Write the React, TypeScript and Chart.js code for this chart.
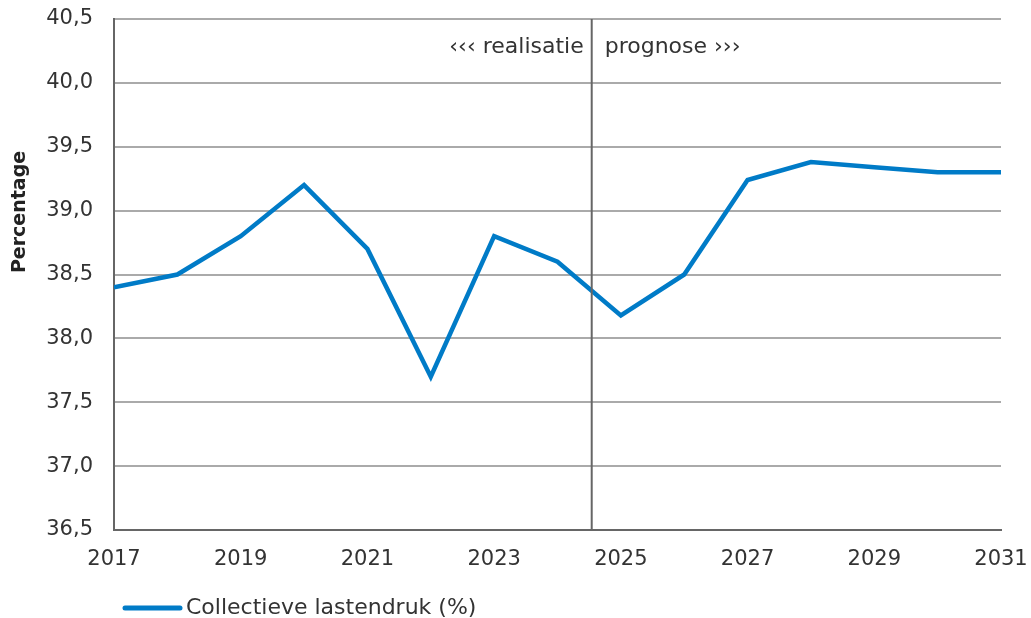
import React, { useEffect, useRef } from "react";
import { Chart, registerables } from "chart.js";

Chart.register(...registerables);

// ---- data ----
const years: number[] = [2017, 2018, 2019, 2020, 2021, 2022, 2023, 2024, 2025, 2026, 2027, 2028, 2029, 2030, 2031];
const lastendruk: number[] = [38.4, 38.5, 38.8, 39.2, 38.7, 37.7, 38.8, 38.6, 38.18, 38.5, 39.24, 39.38, 39.34, 39.3, 39.3];
const yMin = 36.5;
const yMax = 40.5;
const yStep = 0.5;
const xMin = 2017;
const xMax = 2031;
const xStep = 2;
const boundaryYear = 2024.54;
const seriesLabel = "Collectieve lastendruk (%)";
const yAxisTitle = "Percentage";
const leftNote = "\u2039\u2039\u2039 realisatie";
const rightNote = "prognose \u203A\u203A\u203A";

const FONT = "'DejaVu Sans', Verdana, sans-serif";
const BLUE = "#007BC7";
const TEXT = "#333333";

const overlayPlugin = {
  id: "overlay",
  afterDatasetsDraw(chart: any) {
    const { ctx, chartArea, scales } = chart;
    const xs = scales.x;
    ctx.save();
    // separator line
    const bx = xs.getPixelForValue(boundaryYear);
    ctx.strokeStyle = "#666666";
    ctx.lineWidth = 2;
    ctx.beginPath();
    ctx.moveTo(bx, chartArea.top);
    ctx.lineTo(bx, chartArea.bottom);
    ctx.stroke();
    // notes
    ctx.fillStyle = TEXT;
    ctx.font = `22px ${FONT}`;
    ctx.textBaseline = "middle";
    ctx.textAlign = "right";
    ctx.fillText(leftNote, bx - 8, chartArea.top + 28);
    ctx.textAlign = "left";
    ctx.fillText(rightNote, bx + 13, chartArea.top + 28);
    ctx.restore();
  },
  afterDraw(chart: any) {
    const { ctx, chartArea } = chart;
    ctx.save();
    // y axis title
    ctx.fillStyle = "#222222";
    ctx.font = `bold 19px ${FONT}`;
    ctx.translate(20, chartArea.top + 193);
    ctx.rotate(-Math.PI / 2);
    ctx.textAlign = "center";
    ctx.textBaseline = "middle";
    ctx.fillText(yAxisTitle, 0, 0);
    ctx.restore();
    // legend
    ctx.save();
    const ly = 608;
    const lx = chartArea.left + 11;
    ctx.strokeStyle = BLUE;
    ctx.lineWidth = 5;
    ctx.lineCap = "round";
    ctx.beginPath();
    ctx.moveTo(lx, ly);
    ctx.lineTo(lx + 55, ly);
    ctx.stroke();
    ctx.fillStyle = TEXT;
    ctx.font = `22px ${FONT}`;
    ctx.textAlign = "left";
    ctx.textBaseline = "middle";
    ctx.fillText(seriesLabel, lx + 61, ly);
    ctx.restore();
  },
};

export default function App() {
  const ref = useRef<HTMLCanvasElement | null>(null);
  useEffect(() => {
    if (!ref.current) return;
    const chart = new Chart(ref.current, {
      type: "line",
      data: {
        datasets: [
          {
            label: seriesLabel,
            data: years.map((y, i) => ({ x: y, y: lastendruk[i] })),
            borderColor: BLUE,
            backgroundColor: BLUE,
            borderWidth: 4.5,
            pointRadius: 0,
            tension: 0,
            fill: false,
          },
        ],
      },
      options: {
        responsive: false,
        animation: false,
        layout: { padding: { left: 0, right: 30, top: 19, bottom: 44 } },
        plugins: {
          legend: { display: false },
          tooltip: { enabled: false },
        },
        scales: {
          x: {
            type: "linear",
            min: xMin,
            max: xMax,
            afterFit: (s: any) => {
              s.height = 44;
              s.paddingLeft = 0;
              s.paddingRight = 0;
            },
            ticks: {
              stepSize: xStep,
              color: TEXT,
              font: { family: FONT, size: 21 },
              padding: 17,
              maxRotation: 0,
              callback: (v: any) => String(v),
            },
            grid: { display: false, drawTicks: false },
            border: { color: "#666666", width: 2 },
          },
          y: {
            min: yMin,
            max: yMax,
            afterFit: (s: any) => {
              s.width = 114;
              s.paddingTop = 0;
              s.paddingBottom = 0;
            },
            ticks: {
              stepSize: yStep,
              color: TEXT,
              font: { family: FONT, size: 21 },
              padding: 21,
              callback: (v: any) => Number(v).toFixed(1).replace(".", ","),
            },
            grid: { color: "#aaaaaa", lineWidth: 2, drawTicks: false },
            border: { color: "#666666", width: 2 },
          },
        },
      },
      plugins: [overlayPlugin],
    });
    return () => chart.destroy();
  }, []);
  return (
    <div style={{ position: "absolute", left: 0, top: 0, width: 1031, height: 618, background: "#ffffff" }}>
      <canvas ref={ref} width={1031} height={618} style={{ display: "block" }} />
    </div>
  );
}
